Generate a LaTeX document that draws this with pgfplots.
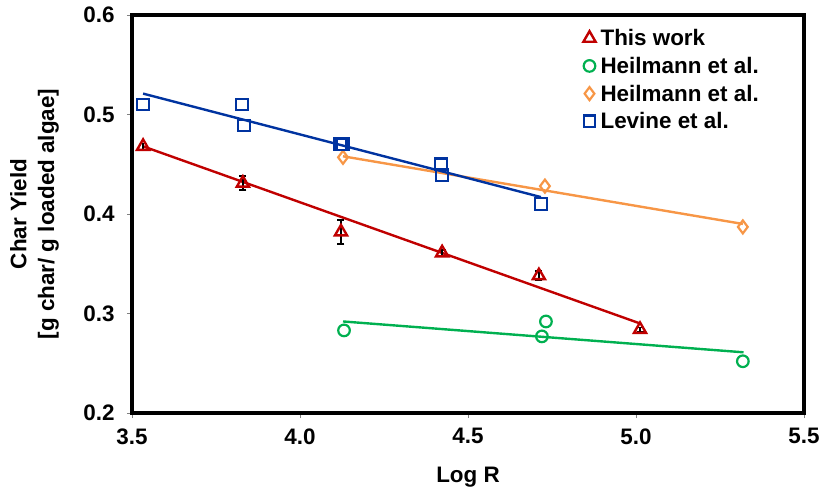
\documentclass[border=0pt]{standalone}
\usepackage{fontspec}
\setmainfont{Liberation Sans}
\usepackage{pgfplots}
\pgfplotsset{compat=1.18}
\definecolor{cred}{HTML}{C00000}
\definecolor{cgreen}{HTML}{00B050}
\definecolor{corange}{HTML}{F79646}
\definecolor{cblue}{HTML}{0033A0}
\newcommand{\ff}{\fontsize{22.5}{28}\selectfont\bfseries}
\begin{document}
\begin{tikzpicture}
\begin{axis}[
  scale only axis, width=672bp, height=398bp,
  at={(0,0)}, anchor=south west,
  xmin=3.5, xmax=5.5, ymin=0.2, ymax=0.6,
  xtick={3.5,4.0,4.5,5.0,5.5}, ytick={0.2,0.3,0.4,0.5,0.6},
  tick pos=left, tick align=outside, major tick length=5bp,
  tick style={gray, line width=0.8bp},
  axis line style={black, line width=3.2bp},
  /pgf/number format/assume math mode=true,
  /pgf/number format/fixed, /pgf/number format/fixed zerofill, /pgf/number format/precision=1,
  xticklabel style={yshift=-7bp},
  yticklabel style={xshift=-9bp},
  ticklabel style={font=\ff},
  label style={font=\ff},
  xlabel={Log R},
  xlabel style={at={(axis description cs:0.5,-0.16)}, anchor=center},
  ylabel={Char Yield\\{}[g char/ g loaded algae]},
  ylabel style={at={(axis description cs:-0.145,0.5)}, anchor=center, align=center},
  legend style={at={(axis description cs:0.670,0.972)}, anchor=north west, draw=none, fill=none, font=\ff, row sep=6bp, inner sep=1bp,
    /tikz/every odd column/.append style={column sep=3bp}},
  legend cell align=left,
  clip=false,
]
% fit lines
\addplot[cred, line width=2.4bp, forget plot] coordinates {(3.533,0.468) (5.012,0.290)};
\addplot[cgreen, line width=2.4bp, forget plot] coordinates {(4.128,0.292) (5.320,0.261)};
\addplot[corange, line width=2.4bp, forget plot] coordinates {(4.128,0.458) (5.318,0.390)};
\addplot[cblue, line width=2.4bp, forget plot] coordinates {(3.533,0.521) (4.717,0.417)};
% data
\addplot[only marks, mark=triangle, mark size=7bp, mark options={cred, line width=2.4bp},
  error bars/.cd, y dir=both, y explicit,
  error bar style={black, line width=1.6bp}, error mark options={black, line width=1.6bp, rotate=90, mark size=3.5bp}]
  coordinates {
  (3.533,0.468) +- (0,0.003)
  (3.830,0.431) +- (0,0.007)
  (4.122,0.382) +- (0,0.012)
  (4.423,0.361) +- (0,0.003)
  (4.711,0.338) +- (0,0.005)
  (5.012,0.284) +- (0,0.002)
};
\addlegendentry{This work}
\addplot[only marks, mark=o, mark size=5.8bp, mark options={cgreen, line width=2.2bp}]
  coordinates {(4.131,0.283) (4.720,0.277) (4.732,0.292) (5.318,0.252)};
\addlegendentry{Heilmann et al.}
\addplot[only marks, mark=diamond, mark size=6.5bp, mark options={corange, line width=2.2bp}]
  coordinates {(4.128,0.457) (4.729,0.428) (5.318,0.387)};
\addlegendentry{Heilmann et al.}
\addplot[only marks, mark=square, mark size=5.8bp, mark options={cblue, line width=2.2bp}]
  coordinates {(3.533,0.510) (3.827,0.510) (3.833,0.489) (4.120,0.470) (4.127,0.470) (4.420,0.450) (4.423,0.439) (4.717,0.410)};
\addlegendentry{Levine et al.}
\end{axis}
\pgfresetboundingbox
\path[use as bounding box] (-132bp,-82bp) rectangle (693bp,413bp);
\end{tikzpicture}
\end{document}
